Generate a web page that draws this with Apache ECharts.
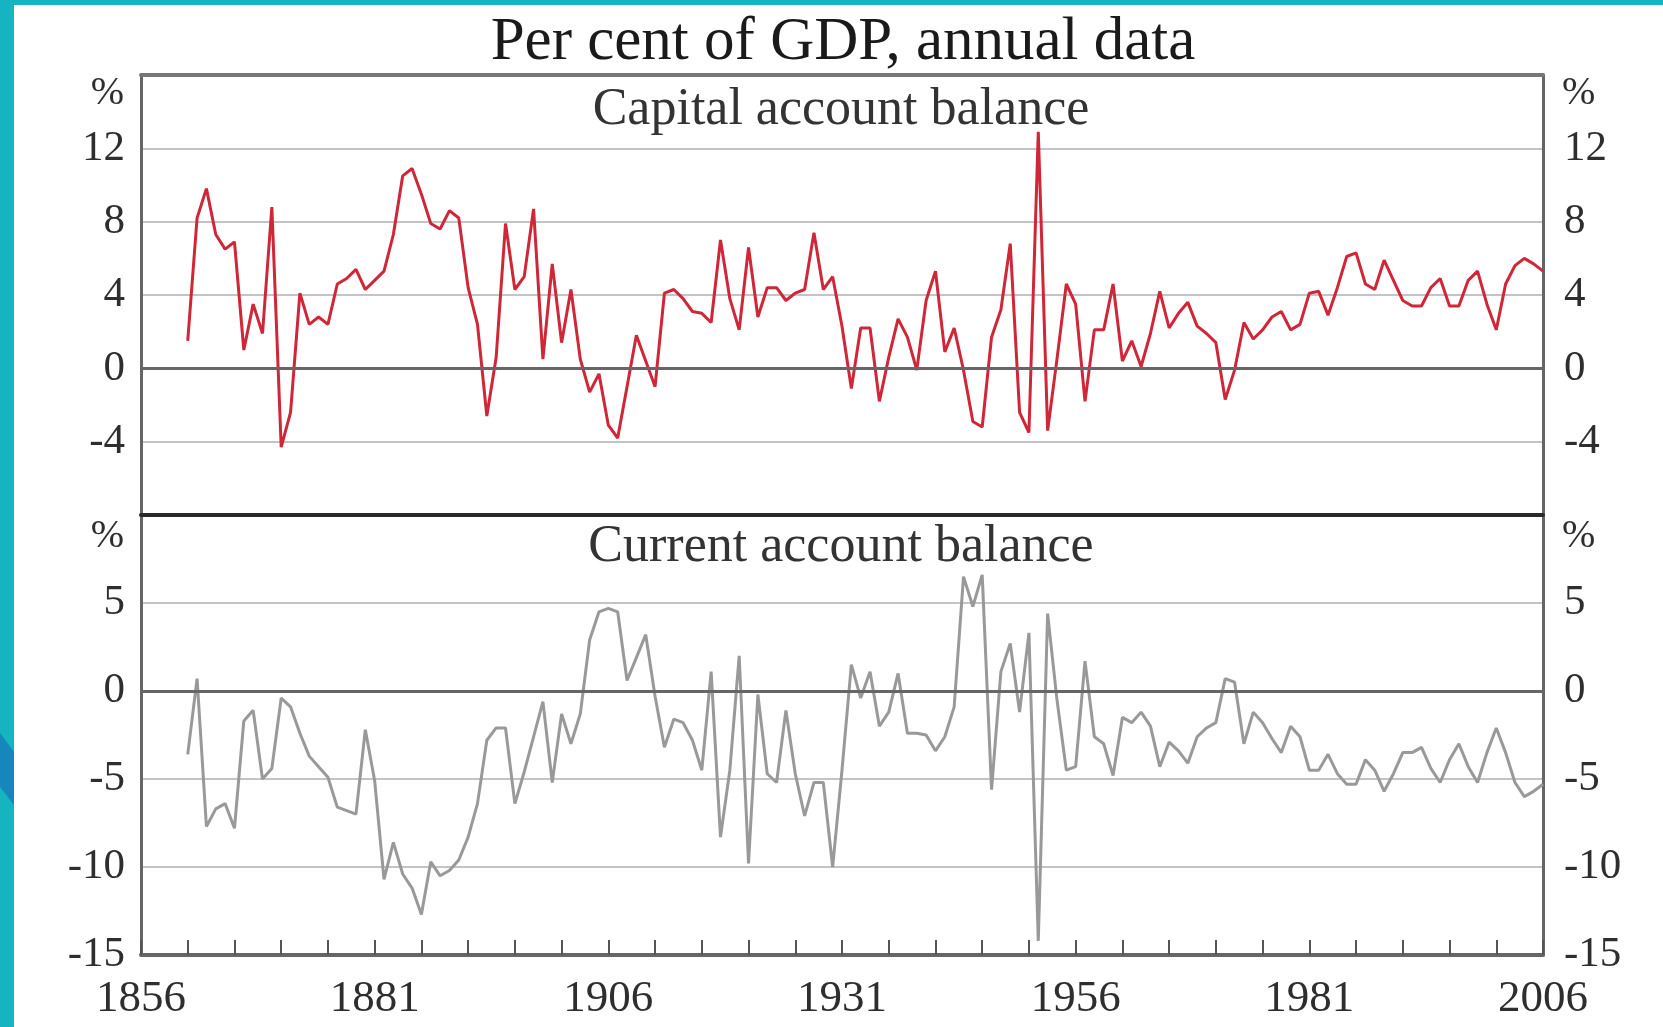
<!DOCTYPE html>
<html>
<head>
<meta charset="utf-8">
<script src="https://cdn.jsdelivr.net/npm/echarts@6/dist/echarts.min.js"></script>
<style>
html,body{margin:0;padding:0;background:#fff;}
#chart{width:1663px;height:1027px;}
</style>
</head>
<body>
<div id="chart"></div>
<script>
// ---- Data (per cent of GDP, annual) ----
const years = [
  1861,1862,1863,1864,1865,1866,1867,1868,1869,1870,
  1871,1872,1873,1874,1875,1876,1877,1878,1879,1880,
  1881,1882,1883,1884,1885,1886,1887,1888,1889,1890,
  1891,1892,1893,1894,1895,1896,1897,1898,1899,1900,
  1901,1902,1903,1904,1905,1906,1907,1908,1909,1910,
  1911,1912,1913,1914,1915,1916,1917,1918,1919,1920,
  1921,1922,1923,1924,1925,1926,1927,1928,1929,1930,
  1931,1932,1933,1934,1935,1936,1937,1938,1939,1940,
  1941,1942,1943,1944,1945,1946,1947,1948,1949,1950,
  1951,1952,1953,1954,1955,1956,1957,1958,1959,1960,
  1961,1962,1963,1964,1965,1966,1967,1968,1969,1970,
  1971,1972,1973,1974,1975,1976,1977,1978,1979,1980,
  1981,1982,1983,1984,1985,1986,1987,1988,1989,1990,
  1991,1992,1993,1994,1995,1996,1997,1998,1999,2000,
  2001,2002,2003,2004,2005,2006
];

const capitalAccount = [
  1.5, 8.2, 9.8, 7.3, 6.5, 6.9, 1.0, 3.5, 1.9, 8.8,
  -4.3, -2.4, 4.1, 2.4, 2.8, 2.4, 4.6, 4.9, 5.4, 4.3,
  4.8, 5.3, 7.3, 10.5, 10.9, 9.5, 7.9, 7.6, 8.6, 8.2,
  4.4, 2.4, -2.6, 0.6, 7.9, 4.3, 5.0, 8.7, 0.5, 5.7,
  1.4, 4.3, 0.5, -1.3, -0.3, -3.1, -3.8, -1.0, 1.8, 0.4,
  -1.0, 4.1, 4.3, 3.8, 3.1, 3.0, 2.5, 7.0, 3.8, 2.1,
  6.6, 2.8, 4.4, 4.4, 3.7, 4.1, 4.3, 7.4, 4.3, 5.0,
  2.3, -1.1, 2.2, 2.2, -1.8, 0.6, 2.7, 1.7, -0.1, 3.7,
  5.3, 0.9, 2.2, -0.1, -2.9, -3.2, 1.7, 3.2, 6.8, -2.4,
  -3.5, 12.9, -3.4, 0.5, 4.6, 3.5, -1.8, 2.1, 2.1, 4.6,
  0.4, 1.5, 0.1, 1.9, 4.2, 2.2, 3.0, 3.6, 2.3, 1.9,
  1.4, -1.7, -0.1, 2.5, 1.6, 2.1, 2.8, 3.1, 2.1, 2.4,
  4.1, 4.2, 2.9, 4.4, 6.1, 6.3, 4.6, 4.3, 5.9, 4.8,
  3.7, 3.4, 3.4, 4.4, 4.9, 3.4, 3.4, 4.8, 5.3, 3.5,
  2.1, 4.6, 5.6, 6.0, 5.7, 5.3
];

const currentAccount = [
  -3.6, 0.7, -7.7, -6.7, -6.4, -7.8, -1.7, -1.1, -5.0, -4.4,
  -0.4, -0.9, -2.4, -3.7, -4.3, -4.9, -6.6, -6.8, -7.0, -2.2,
  -5.1, -10.7, -8.6, -10.4, -11.2, -12.7, -9.7, -10.5, -10.2, -9.6,
  -8.3, -6.4, -2.8, -2.1, -2.1, -6.4, -4.6, -2.6, -0.6, -5.2,
  -1.3, -3.0, -1.3, 2.9, 4.5, 4.7, 4.5, 0.6, 1.9, 3.2,
  -0.3, -3.2, -1.6, -1.8, -2.8, -4.5, 1.1, -8.3, -4.5, 2.0,
  -9.8, -0.2, -4.7, -5.2, -1.1, -4.7, -7.1, -5.2, -5.2, -10.0,
  -4.5, 1.5, -0.4, 1.1, -2.0, -1.2, 1.0, -2.4, -2.4, -2.5,
  -3.4, -2.6, -0.9, 6.5, 4.8, 6.6, -5.6, 1.1, 2.7, -1.2,
  3.3, -14.2, 4.4, -0.5, -4.5, -4.3, 1.7, -2.6, -3.0, -4.8,
  -1.5, -1.8, -1.2, -2.0, -4.3, -2.9, -3.4, -4.1, -2.6, -2.1,
  -1.8, 0.7, 0.5, -3.0, -1.2, -1.8, -2.7, -3.5, -2.0, -2.6,
  -4.5, -4.5, -3.6, -4.7, -5.3, -5.3, -3.9, -4.5, -5.7, -4.7,
  -3.5, -3.5, -3.2, -4.4, -5.2, -3.9, -3.0, -4.3, -5.2, -3.5,
  -2.1, -3.5, -5.2, -6.0, -5.7, -5.3
];

const xTickLabels = [1856, 1881, 1906, 1931, 1956, 1981, 2006];
const capitalTickLabels = [-4, 0, 4, 8, 12];
const currentTickLabels = [-15, -10, -5, 0, 5];

const mainTitle = 'Per cent of GDP, annual data';
const capitalTitle = 'Capital account balance';
const currentTitle = 'Current account balance';
const unitLabel = '%';

// ---- Build ----
const pairs = (vals) => vals.map((v, i) => [years[i], v]);

const SERIF = "'Liberation Serif', 'DejaVu Serif', serif";
const labelColor = '#2e2e2e';
const gridColor = '#c4c4c4';
const frameColor = '#666666';

function yAxisFor(gridIndex, position, min, max, interval, shown) {
  return {
    type: 'value', gridIndex: gridIndex, position: position,
    min: min, max: max, interval: interval,
    axisLine: { show: true, onZero: false, lineStyle: { color: frameColor, width: 3 } },
    axisTick: { show: false },
    axisLabel: {
      show: true,
      margin: position === 'left' ? 16 : 21,
      fontFamily: SERIF, fontSize: 43, color: labelColor,
      align: position === 'left' ? 'right' : 'left',
      formatter: (v) => shown.indexOf(v) >= 0 ? String(v) : ''
    },
    splitLine: { show: position === 'left', lineStyle: { color: gridColor, width: 2 } }
  };
}

const baseX = { type: 'value', min: 1856, max: 2006, interval: 5 };

const option = {
  animation: false,
  backgroundColor: '#ffffff',
  grid: [
    { left: 141, right: 120, top: 75, height: 440 },
    { left: 141, right: 120, top: 515, height: 440 }
  ],
  xAxis: [
    Object.assign({}, baseX, {
      gridIndex: 0, position: 'bottom',
      axisLine: { show: true, onZero: false, lineStyle: { color: '#2a2a2a', width: 4 } },
      axisTick: { show: false }, axisLabel: { show: false }, splitLine: { show: false }
    }),
    Object.assign({}, baseX, {
      gridIndex: 0, position: 'top',
      axisLine: { show: true, onZero: false, lineStyle: { color: '#777', width: 4 } },
      axisTick: { show: false }, axisLabel: { show: false }, splitLine: { show: false }
    }),
    Object.assign({}, baseX, {
      gridIndex: 1, position: 'bottom',
      axisLine: { show: true, onZero: false, lineStyle: { color: frameColor, width: 4 } },
      axisTick: { show: true, inside: true, length: 15, lineStyle: { color: '#555', width: 2 } },
      axisLabel: {
        show: true, margin: 22, fontFamily: SERIF, fontSize: 45, color: labelColor,
        showMinLabel: true, showMaxLabel: true,
        formatter: (v) => xTickLabels.indexOf(v) >= 0 ? String(v) : ''
      },
      splitLine: { show: false }
    })
  ],
  yAxis: [
    yAxisFor(0, 'left', -8, 16, 4, capitalTickLabels),
    yAxisFor(0, 'right', -8, 16, 4, capitalTickLabels),
    yAxisFor(1, 'left', -15, 10, 5, currentTickLabels),
    yAxisFor(1, 'right', -15, 10, 5, currentTickLabels)
  ],
  series: [
    {
      name: capitalTitle, type: 'line', xAxisIndex: 0, yAxisIndex: 0,
      data: pairs(capitalAccount), symbol: 'none', smooth: false,
      lineStyle: { color: '#cf2638', width: 3 }, z: 3,
      markLine: {
        silent: true, symbol: ['none', 'none'], label: { show: false },
        lineStyle: { color: frameColor, width: 3, type: 'solid' },
        data: [{ yAxis: 0 }]
      }
    },
    {
      name: currentTitle, type: 'line', xAxisIndex: 2, yAxisIndex: 2,
      data: pairs(currentAccount), symbol: 'none', smooth: false,
      lineStyle: { color: '#999999', width: 3 }, z: 3,
      markLine: {
        silent: true, symbol: ['none', 'none'], label: { show: false },
        lineStyle: { color: frameColor, width: 3, type: 'solid' },
        data: [{ yAxis: 0 }]
      }
    }
  ],
  graphic: [
    { type: 'rect', shape: { x: 0, y: 0, width: 1663, height: 5 }, style: { fill: '#14b4c0' }, silent: true },
    { type: 'rect', shape: { x: 0, y: 0, width: 14, height: 1027 }, style: { fill: '#14b4c0' }, silent: true },
    { type: 'polygon', shape: { points: [[0, 733], [14, 752], [14, 805], [0, 787]] }, style: { fill: '#1786bd' }, silent: true },
    { type: 'text', x: 843, y: 43, style: { text: mainTitle, font: "61px 'Liberation Serif', serif", fill: '#1a1a1a', textAlign: 'center', textVerticalAlign: 'middle' } },
    { type: 'text', x: 841, y: 110, style: { text: capitalTitle, font: "52px 'Liberation Serif', serif", fill: '#333', textAlign: 'center', textVerticalAlign: 'middle' } },
    { type: 'text', x: 841, y: 547, style: { text: currentTitle, font: "52px 'Liberation Serif', serif", fill: '#333', textAlign: 'center', textVerticalAlign: 'middle' } },
    { type: 'text', x: 124, y: 93, style: { text: unitLabel, font: "40px 'Liberation Serif', serif", fill: labelColor, textAlign: 'right', textVerticalAlign: 'middle' } },
    { type: 'text', x: 124, y: 536, style: { text: unitLabel, font: "40px 'Liberation Serif', serif", fill: labelColor, textAlign: 'right', textVerticalAlign: 'middle' } },
    { type: 'text', x: 1562, y: 93, style: { text: unitLabel, font: "40px 'Liberation Serif', serif", fill: labelColor, textAlign: 'left', textVerticalAlign: 'middle' } },
    { type: 'text', x: 1562, y: 536, style: { text: unitLabel, font: "40px 'Liberation Serif', serif", fill: labelColor, textAlign: 'left', textVerticalAlign: 'middle' } }
  ]
};

const chart = echarts.init(document.getElementById('chart'), null, { renderer: 'canvas' });
chart.setOption(option);
</script>
</body>
</html>
